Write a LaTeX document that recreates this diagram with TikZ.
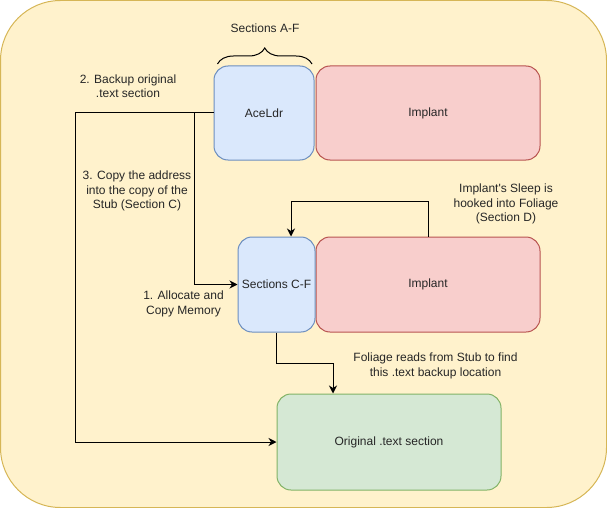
\documentclass[tikz,border=0pt]{standalone}
\usepackage{fontspec}
\setmainfont{Liberation Sans}
\usetikzlibrary{arrows.meta,decorations.pathreplacing}
\definecolor{bgfill}{HTML}{FFF2CC}
\definecolor{bgdraw}{HTML}{D6B656}
\definecolor{bluefill}{HTML}{DAE8FC}
\definecolor{bluedraw}{HTML}{6C8EBF}
\definecolor{redfill}{HTML}{F8CECC}
\definecolor{reddraw}{HTML}{B85450}
\definecolor{greenfill}{HTML}{D5E8D4}
\definecolor{greendraw}{HTML}{82B366}
\begin{document}
\begin{tikzpicture}[x=1pt, y=-1pt, font=\fontsize{12}{14.5}\selectfont]
      \tikzset{
	  loader/.style={rectangle,rounded corners=14pt,draw=bluedraw,fill=bluefill,line width=1pt, inner sep=0pt, text centered, text=black!85},
	  implant/.style={rectangle,rounded corners=14pt,draw=reddraw,fill=redfill,line width=1pt, inner sep=0pt, text centered, text=black!85},
	  original/.style={rectangle,rounded corners=14pt,draw=greendraw,fill=greenfill,line width=1pt, inner sep=0pt, text centered, text=black!85},
	  mylabel/.style={align=center, inner sep=0pt, text=black!85},
	  link/.style={draw=black, line width=1pt},
	  arr/.style={link, -{Stealth[length=8pt,width=8pt,inset=2.5pt]}}
      }

      \useasboundingbox (0,0) rectangle (607,508);
      \draw[fill=bgfill, draw=bgdraw, line width=1pt, rounded corners=60pt] (0.5,0.5) rectangle (606.5,507.5);

      % upper row
      \node[implant, minimum width=224pt, minimum height=94pt] (impl1) at (428,113) {Implant};
      \node[loader, minimum width=100pt, minimum height=94pt] (aceldr) at (264,113) {AceLdr};
      \draw[decorate, decoration={brace, amplitude=16pt}, line width=1pt] (217.5,64) -- (312,64);
      \node[mylabel] (secaf) at (265,28) {Sections A-F};

      % lower row
      \node[implant, minimum width=224pt, minimum height=95pt] (impl2) at (428,284.5) {Implant};
      \node[loader, minimum width=77pt, minimum height=95pt] (secs) at (276.5,284.5) {Sections C-F};
      \node[original, minimum width=224pt, minimum height=96pt] (orig) at (389,442) {Original .text section};

      % labels
      \node[mylabel] (lbackup) at (128,86) {2. Backup original\\.text section};
      \node[mylabel] (lcopy) at (137,191) {3. Copy the address\\into the copy of the\\Stub (Section C)};
      \node[mylabel] (lalloc) at (183.5,304) {1. Allocate and\\Copy Memory};
      \node[mylabel] (lsleep) at (506,204) {Implant\textquotesingle s Sleep is\\hooked into Foliage\\(Section D)};
      \node[mylabel] (lreads) at (435.5,366) {Foliage reads from Stub to find\\this .text backup location};

      % connectors
      \coordinate (bkturn) at (75,113);
      \coordinate (cpturn) at (194,113);
      \draw[link] (aceldr.west) -- (bkturn);
      \draw[arr] (bkturn) |- (orig.west);
      \draw[arr] (cpturn) |- (secs.west);
      \draw[arr] (impl2.north) -- ++(0,-35) -| ([xshift=14.5pt]secs.north);
      \draw[arr] (secs.south) -- ++(0,31) -| ([xshift=-56pt]orig.north);
    \end{tikzpicture}
\end{document}
